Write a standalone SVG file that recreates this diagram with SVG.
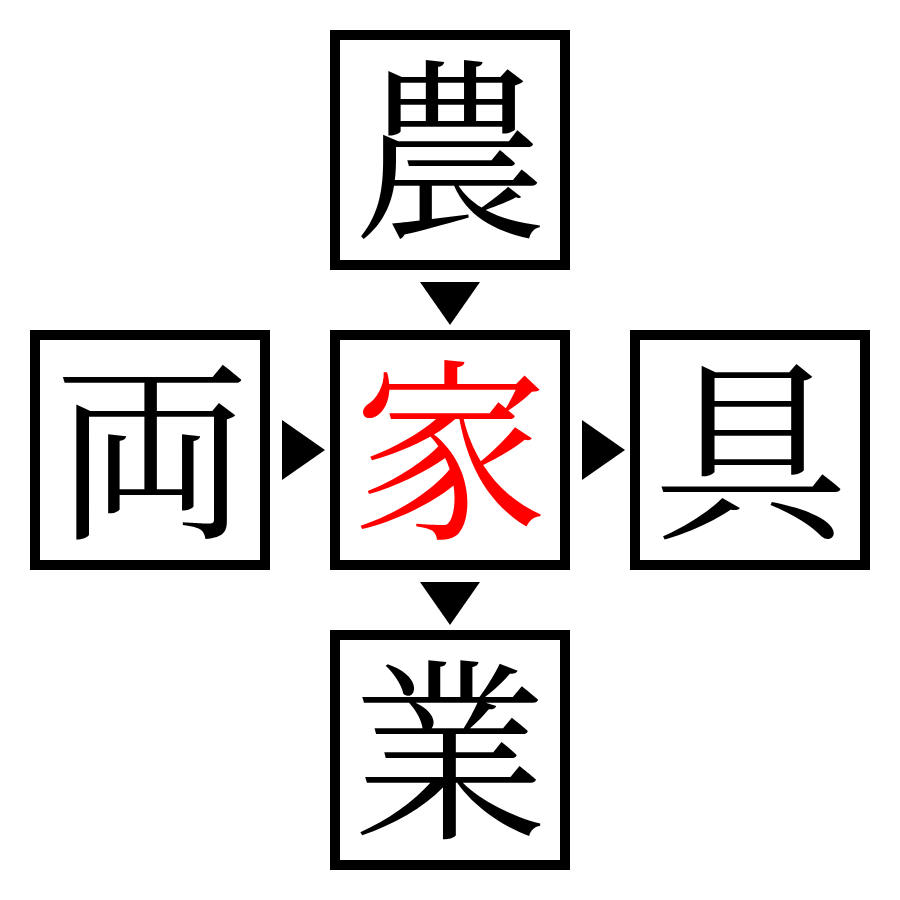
<svg xmlns="http://www.w3.org/2000/svg" width="900" height="900" viewBox="0 0 900 900">
<style>
.box{fill:#fff;stroke:#000;stroke-width:10}
.ch{font-family:"Noto Serif CJK JP","Noto Sans CJK JP",serif;font-size:195px;text-anchor:middle;fill:#000}
.red{fill:#f00}
.arr{fill:#000}
</style>
<rect width="900" height="900" fill="#fff"/>
<g id="n-top"><rect class="box" x="335" y="35" width="230" height="230"/><text class="ch" x="450" y="224">農</text></g>
<g id="n-left"><rect class="box" x="35" y="335" width="230" height="230"/><text class="ch" x="152" y="524">両</text></g>
<g id="n-center"><rect class="box" x="335" y="335" width="230" height="230"/><text class="ch red" x="451" y="524">家</text></g>
<g id="n-right"><rect class="box" x="635" y="335" width="230" height="230"/><text class="ch" x="751" y="524">具</text></g>
<g id="n-bottom"><rect class="box" x="335" y="635" width="230" height="230"/><text class="ch" x="450" y="824">業</text></g>
<g id="connectors">
<polygon class="arr" points="420,282 480,282 450,325"/>
<polygon class="arr" points="282,420 282,480 325,450"/>
<polygon class="arr" points="582,420 582,480 625,450"/>
<polygon class="arr" points="420,582 480,582 450,625"/>
</g>
</svg>
